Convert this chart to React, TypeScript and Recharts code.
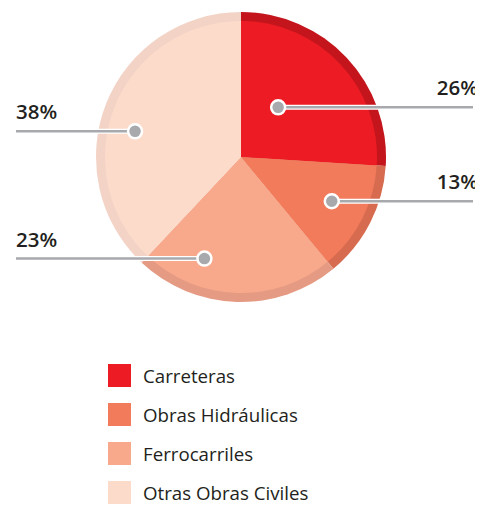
import React from "react";
import { PieChart, Pie, Cell, Legend } from "recharts";

const categories = ["Carreteras", "Obras Hidráulicas", "Ferrocarriles", "Otras Obras Civiles"];
const shares = [26, 13, 23, 38];
const labels = ["26%", "13%", "23%", "38%"];

const mainColors = ["#ED1C24", "#F27B5C", "#F8A88B", "#FDDBCB"];
const rimColors = ["#C4151D", "#D66B50", "#E59B83", "#F2D3C6"];
// layout tweaks for where each callout dot sits (angle offset in degrees, radius)
const anchorLayout = [
  { da: 10, r: 62 },
  { da: 1, r: 101 },
  { da: -18, r: 108 },
  { da: 8, r: 109 },
];

const data = categories.map((name, i) => ({ name, value: shares[i], label: labels[i] }));

const FONT = "'Open Sans', sans-serif";
const RAD = Math.PI / 180;

const renderLabel = (props: any) => {
  const { cx, cy, midAngle, index } = props;
  const lay = anchorLayout[index];
  const a = (midAngle + lay.da) * RAD;
  const x = cx + lay.r * Math.cos(a);
  const y = cy - lay.r * Math.sin(a);
  const right = x > cx;
  const xEnd = right ? 465 : 8;
  return (
    <g key={`lbl-${index}`}>
      <line x1={x} y1={y} x2={xEnd} y2={y} stroke="#FFFFFF" strokeWidth={5} />
      <line x1={x} y1={y} x2={xEnd} y2={y} stroke="#A7A9AC" strokeWidth={2.5} />
      <circle cx={x} cy={y} r={7} fill="#A7A9AC" stroke="#FFFFFF" strokeWidth={2.5} />
      <text
        x={right ? 470 : 8}
        y={y - 12}
        textAnchor={right ? "end" : "start"}
        fontFamily={FONT}
        fontWeight={600}
        fontSize={20.5}
        fill="#231F20"
      >
        {data[index].label}
      </text>
    </g>
  );
};

const LegendContent = (props: any) => {
  const items = (props.payload || [])
    .filter((p: any) => p.type !== "none")
    .slice()
    .sort((a: any, b: any) => categories.indexOf(a.value) - categories.indexOf(b.value));
  return (
    <div style={{ fontFamily: FONT }}>
      {items.map((p: any, i: number) => (
        <div key={i} style={{ display: "flex", alignItems: "center", height: 39 }}>
          <div style={{ width: 23, height: 23, background: p.color, marginRight: 12 }} />
          <span style={{ fontSize: 18.7, color: "#231F20", lineHeight: "23px" }}>{p.value}</span>
        </div>
      ))}
    </div>
  );
};

export default function App() {
  return (
    <PieChart width={475} height={500} margin={{ top: 0, right: 0, bottom: 0, left: 0 }}>
      <Pie
        data={data}
        dataKey="value"
        nameKey="name"
        cx={233}
        cy={149}
        outerRadius={145}
        startAngle={90}
        endAngle={-270}
        stroke="none"
        legendType="none"
        isAnimationActive={false}
      >
        {data.map((d, i) => (
          <Cell key={d.name} fill={rimColors[i]} />
        ))}
      </Pie>
      <Pie
        data={data}
        dataKey="value"
        nameKey="name"
        cx={233}
        cy={149}
        outerRadius={136}
        startAngle={90}
        endAngle={-270}
        stroke="none"
        label={renderLabel}
        labelLine={false}
        legendType="square"
        isAnimationActive={false}
      >
        {data.map((d, i) => (
          <Cell key={d.name} fill={mainColors[i]} />
        ))}
      </Pie>
      <Legend
        content={<LegendContent />}
        wrapperStyle={{ position: "absolute", top: 348, left: 100, width: 300, bottom: "auto" }}
      />
    </PieChart>
  );
}
